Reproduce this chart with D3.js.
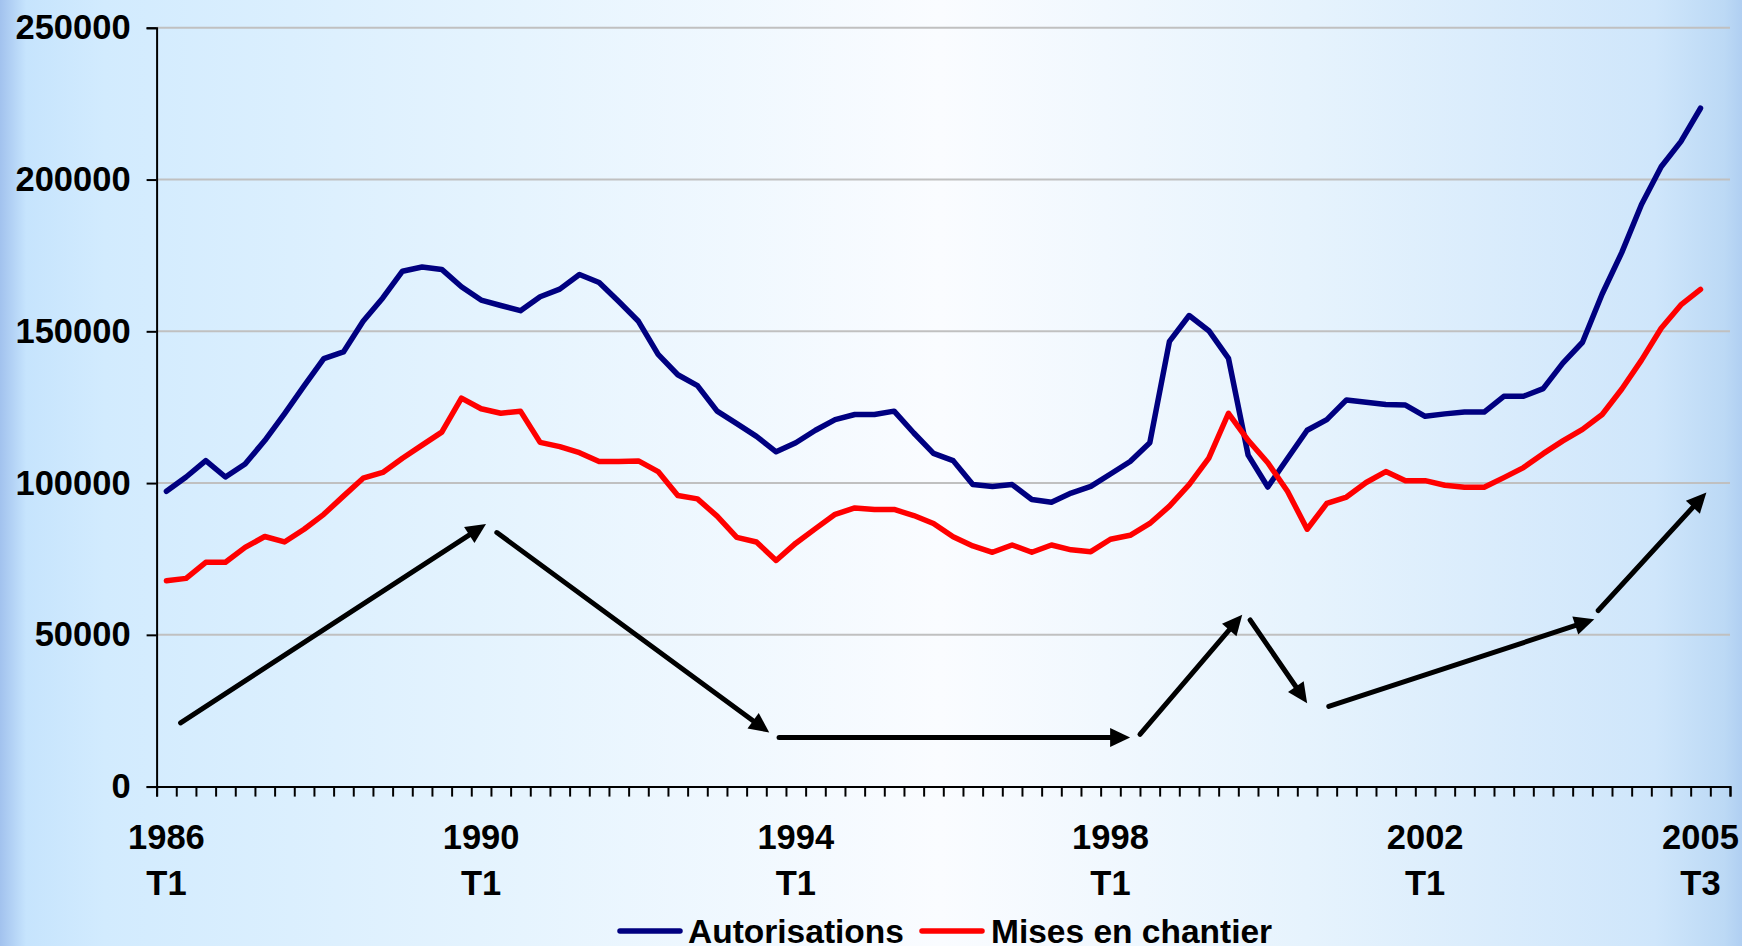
<!DOCTYPE html>
<html>
<head>
<meta charset="utf-8">
<title>Autorisations et mises en chantier</title>
<style>
body { margin: 0; background: #fff; }
text { font-family: "Liberation Sans", Arial, sans-serif; font-weight: bold; fill: #000; }
</style>
</head>
<body>
<svg id="chart" width="1742" height="946"></svg>
<script src="https://d3js.org/d3.v7.min.js"></script>
<script>
// quarters 1986 T1 .. 2005 T4 (last one has no data)
var years = d3.range(1986, 2006);
var quarters = ["T1", "T2", "T3", "T4"];
var categories = [];
years.forEach(function (y) {
	quarters.forEach(function (q) { categories.push(y + " " + q); });
});

var autorisations = [
	97300, 102000, 107400, 102000, 106300, 114000, 122800, 132000, 141000, 143200,
	153300, 161000, 169800, 171200, 170400, 164700, 160300, 158500, 156800, 161400,
	163900, 168700, 166100, 159800, 153300, 142400, 135700, 132100, 123700, 119600,
	115400, 110300, 113300, 117400, 120900, 122600, 122600, 123700, 116500, 109800,
	107400, 99500, 98900, 99500, 94600, 93700, 96700, 98900, 103000, 107100,
	113300, 146700, 155200, 150200, 141100, 109200, 98700, 108100, 117400, 120900,
	127400, 126600, 125900, 125700, 122000, 122800, 123400, 123400, 128600, 128600,
	131100, 139500, 146400, 162300, 176000, 191800, 204200, 212500, 223500
];

var misesEnChantier = [
	67800, 68600, 73900, 73900, 78800, 82400, 80600, 84800, 89700, 95700,
	101600, 103500, 108200, 112500, 116800, 128000, 124500, 123000, 123700, 113400,
	112000, 110000, 107100, 107100, 107300, 103800, 95900, 94800, 89100, 82100,
	80600, 74500, 80200, 85000, 89700, 91800, 91300, 91300, 89300, 86700,
	82300, 79300, 77200, 79600, 77200, 79600, 78000, 77400, 81500, 82800,
	86700, 92400, 99500, 108200, 123000, 114100, 106700, 97300, 84800, 93300,
	95400, 100200, 103800, 100800, 100800, 99300, 98600, 98600, 101800, 105100,
	109700, 113900, 117700, 122600, 131000, 140500, 151000, 158700, 163800
];

var yTicks = [0, 50000, 100000, 150000, 200000, 250000];

var tickLabels = [
	["1986 T1", "1986", "T1"],
	["1990 T1", "1990", "T1"],
	["1994 T1", "1994", "T1"],
	["1998 T1", "1998", "T1"],
	["2002 T1", "2002", "T1"],
	["2005 T3", "2005", "T3"]
];

// trend arrows: [start quarter index, start value, end quarter index, end value]
var trendArrows = [
	[0.72, 21000, 16.25, 86500],
	[16.8, 83700, 30.65, 17800],
	[31.15, 16200, 49.0, 16200],
	[49.5, 17200, 54.7, 56600],
	[55.1, 54900, 58.0, 27500],
	[59.1, 26400, 72.6, 55100],
	[72.8, 58000, 78.3, 96900]
];

var series = [
	{ name: "Autorisations", values: autorisations, color: "#000080" },
	{ name: "Mises en chantier", values: misesEnChantier, color: "#ff0000" }
];

var svg = d3.select("#chart"),
	width = +svg.attr("width"),
	height = +svg.attr("height");

var plotLeft = 156.6, plotRight = 1730, plotTop = 27.8, plotBottom = 786.6;
var fontSize = 34.5;

// background
var defs = svg.append("defs");
var grad = defs.append("linearGradient").attr("id", "bg").attr("x1", "0").attr("x2", "1").attr("y1", "0").attr("y2", "0");
[[0, "#a2c2ee"], [0.015, "#c6e4fd"], [0.06, "#d2ebfe"], [0.3, "#e6f4fe"], [0.54, "#fafcff"], [0.75, "#e6f3fd"], [0.95, "#cfe6fb"], [0.99, "#bcd9f5"], [1, "#b0cff2"]]
	.forEach(function (s) {
		grad.append("stop").attr("offset", s[0]).attr("stop-color", s[1]);
	});
svg.append("rect").attr("width", width).attr("height", height).attr("fill", "url(#bg)");

var n = categories.length;
var x = d3.scaleLinear().domain([0, n]).range([plotLeft, plotRight]);
var y = d3.scaleLinear().domain([0, 250000]).range([plotBottom, plotTop]);

function cx(i) { return x(i + 0.5); }

// gridlines
svg.append("g")
	.selectAll("line")
	.data(yTicks.filter(function (d) { return d > 0; }))
	.enter().append("line")
		.attr("x1", plotLeft).attr("x2", plotRight)
		.attr("y1", function (d) { return y(d); })
		.attr("y2", function (d) { return y(d); })
		.attr("stroke", "#c0c0c0")
		.attr("stroke-width", 2);

// y axis
var yAxis = svg.append("g")
	.attr("transform", "translate(" + plotLeft + ",0)")
	.call(d3.axisLeft(y).tickValues(yTicks).tickSize(10).tickPadding(16).tickFormat(d3.format("d")));
yAxis.select(".domain").attr("stroke", "#000").attr("stroke-width", 2);
yAxis.selectAll(".tick line").attr("stroke", "#000").attr("stroke-width", 2);
yAxis.selectAll(".tick text")
	.attr("font-size", fontSize)
	.attr("font-family", "Liberation Sans, Arial, sans-serif")
	.attr("font-weight", "bold")
	.attr("fill", "#000");

// x axis, ticks between quarters
var xAxis = svg.append("g")
	.attr("transform", "translate(0," + plotBottom + ")")
	.call(d3.axisBottom(x).tickValues(d3.range(0, n + 1)).tickSize(10).tickFormat(function () { return ""; }));
xAxis.select(".domain").attr("stroke", "#000").attr("stroke-width", 2);
xAxis.selectAll(".tick line").attr("stroke", "#000").attr("stroke-width", 2);

var xLabels = svg.append("g")
	.selectAll("g")
	.data(tickLabels)
	.enter().append("g")
		.attr("transform", function (d) {
			return "translate(" + cx(categories.indexOf(d[0])) + ",0)";
		});
xLabels.append("text")
	.attr("y", 837).attr("text-anchor", "middle").attr("dominant-baseline", "central")
	.attr("font-size", fontSize)
	.text(function (d) { return d[1]; });
xLabels.append("text")
	.attr("y", 883).attr("text-anchor", "middle").attr("dominant-baseline", "central")
	.attr("font-size", fontSize)
	.text(function (d) { return d[2]; });

// series lines
var line = d3.line()
	.x(function (d, i) { return cx(i); })
	.y(function (d) { return y(d); });

svg.append("g")
	.selectAll("path")
	.data(series)
	.enter().append("path")
		.attr("d", function (d) { return line(d.values); })
		.attr("fill", "none")
		.attr("stroke", function (d) { return d.color; })
		.attr("stroke-width", 5.5)
		.attr("stroke-linejoin", "round")
		.attr("stroke-linecap", "round");

// trend arrows
var headLen = 20, headHalf = 9.5;
var arrows = svg.append("g");
trendArrows.forEach(function (a) {
	var x0 = cx(a[0]), y0 = y(a[1]), x1 = cx(a[2]), y1 = y(a[3]);
	var ang = Math.atan2(y1 - y0, x1 - x0);
	var bx = x1 - headLen * Math.cos(ang), by = y1 - headLen * Math.sin(ang);
	arrows.append("line")
		.attr("x1", x0).attr("y1", y0)
		.attr("x2", bx + 2 * Math.cos(ang)).attr("y2", by + 2 * Math.sin(ang))
		.attr("stroke", "#000")
		.attr("stroke-width", 5)
		.attr("stroke-linecap", "round");
	var px = -Math.sin(ang) * headHalf, py = Math.cos(ang) * headHalf;
	arrows.append("path")
		.attr("d", "M" + x1 + "," + y1 + "L" + (bx + px) + "," + (by + py) + "L" + (bx - px) + "," + (by - py) + "Z")
		.attr("fill", "#000");
});

// legend (cut by the bottom edge, as in the original)
var legendPos = [{ x: 620, tx: 688 }, { x: 922, tx: 991 }];
var legend = svg.append("g")
	.selectAll("g")
	.data(series)
	.enter().append("g");
legend.append("line")
	.attr("x1", function (d, i) { return legendPos[i].x; })
	.attr("x2", function (d, i) { return legendPos[i].x + 60; })
	.attr("y1", 931).attr("y2", 931)
	.attr("stroke", function (d) { return d.color; })
	.attr("stroke-width", 5.5)
	.attr("stroke-linecap", "round");
legend.append("text")
	.attr("x", function (d, i) { return legendPos[i].tx; })
	.attr("y", 943)
	.attr("font-size", 33.5)
	.text(function (d) { return d.name; });
</script>
</body>
</html>
